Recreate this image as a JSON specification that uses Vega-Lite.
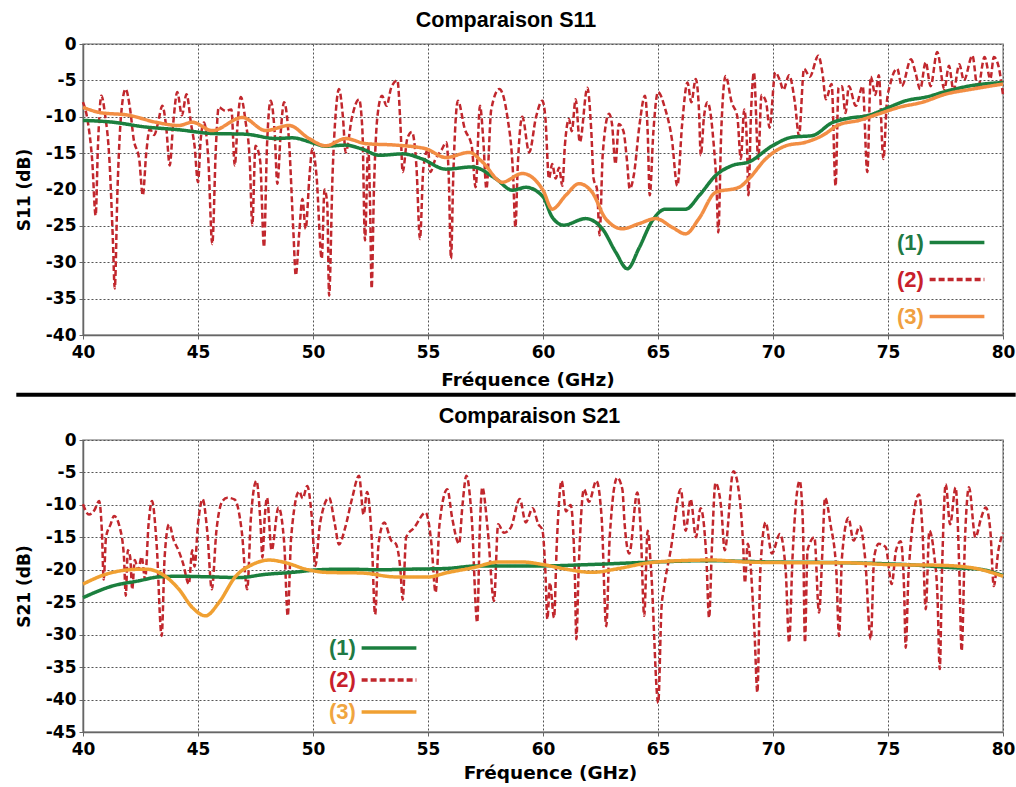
{
"$schema": "https://vega.github.io/schema/vega-lite/v6.json",
"padding": {"left": 13, "top": 8, "right": 0, "bottom": 0},
"background": "white",
"config": {
 "font": "DejaVu Sans",
 "view": {"stroke": "#999", "strokeWidth": 1.5},
 "axis": {"labelFont": "DejaVu Sans", "labelFontWeight": "bold", "labelFontSize": 17, "labelColor": "#000", "titleFont": "DejaVu Sans", "titleFontWeight": "bold", "titleFontSize": 18.5, "titleColor": "#000", "gridColor": "#555", "gridDash": [2, 2], "gridWidth": 1, "domainColor": "#666", "domainWidth": 1.5, "tickColor": "#666", "tickSize": 4, "labelPadding": 3, "labelFlush": false, "labelOverlap": false, "tickCount": 50},
 "axisX": {"labelPadding": 5},
 "axisY": {"titleFontSize": 17},
 "title": {"font": "Liberation Sans", "fontWeight": "bold", "fontSize": 21.5, "color": "#000", "anchor": "middle", "offset": 4},
 "legend": {"labelFont": "Liberation Sans", "labelFontWeight": "bold", "labelFontSize": 22, "symbolType": "stroke", "symbolSize": 3000, "symbolStrokeWidth": 3.5, "title": null, "rowPadding": 0}
},
"datasets": {
 "s11": [
  {"f":40,"v":-10.5,"s":"(1)"},{"f":41.3,"v":-10.75,"s":"(1)"},{"f":42.7,"v":-11.4,"s":"(1)"},{"f":44.2,"v":-11.8,"s":"(1)"},{"f":45.6,"v":-12.3,"s":"(1)"},{"f":47.07,"v":-12.4,"s":"(1)"},{"f":48.4,"v":-13,"s":"(1)"},{"f":49.1,"v":-12.9,"s":"(1)"},{"f":50,"v":-13.6,"s":"(1)"},{"f":50.55,"v":-14.05,"s":"(1)"},{"f":51.4,"v":-13.9,"s":"(1)"},{"f":52.1,"v":-14.4,"s":"(1)"},{"f":52.9,"v":-15.3,"s":"(1)"},{"f":53.9,"v":-15.1,"s":"(1)"},{"f":54.75,"v":-15.8,"s":"(1)"},{"f":55.77,"v":-17.2,"s":"(1)"},{"f":56.93,"v":-16.9,"s":"(1)"},{"f":57.94,"v":-18.5,"s":"(1)"},{"f":58.67,"v":-20.1,"s":"(1)"},{"f":59.25,"v":-19.7,"s":"(1)"},{"f":60,"v":-21,"s":"(1)"},{"f":60.4,"v":-23.8,"s":"(1)"},{"f":60.9,"v":-24.9,"s":"(1)"},{"f":61.85,"v":-24,"s":"(1)"},{"f":62.58,"v":-25.4,"s":"(1)"},{"f":63.16,"v":-28.6,"s":"(1)"},{"f":63.67,"v":-30.9,"s":"(1)"},{"f":64.17,"v":-28.1,"s":"(1)"},{"f":64.75,"v":-24.3,"s":"(1)"},{"f":65.33,"v":-22.7,"s":"(1)"},{"f":66.2,"v":-22.7,"s":"(1)"},{"f":66.8,"v":-20.8,"s":"(1)"},{"f":67.5,"v":-18.1,"s":"(1)"},{"f":68.23,"v":-16.7,"s":"(1)"},{"f":68.96,"v":-16.2,"s":"(1)"},{"f":69.97,"v":-14,"s":"(1)"},{"f":70.84,"v":-12.8,"s":"(1)"},{"f":71.7,"v":-12.6,"s":"(1)"},{"f":72.58,"v":-10.8,"s":"(1)"},{"f":73.3,"v":-10.2,"s":"(1)"},{"f":74.17,"v":-9.8,"s":"(1)"},{"f":75.04,"v":-8.7,"s":"(1)"},{"f":75.77,"v":-7.8,"s":"(1)"},{"f":76.64,"v":-7.3,"s":"(1)"},{"f":77.65,"v":-6.4,"s":"(1)"},{"f":78.67,"v":-5.7,"s":"(1)"},{"f":80,"v":-5.3,"s":"(1)"},
  {"f":40,"v":-8.7,"s":"(3)"},{"f":40.7,"v":-9.4,"s":"(3)"},{"f":42,"v":-9.8,"s":"(3)"},{"f":43.16,"v":-10.75,"s":"(3)"},{"f":44.17,"v":-11.2,"s":"(3)"},{"f":44.75,"v":-10.75,"s":"(3)"},{"f":45.62,"v":-11.9,"s":"(3)"},{"f":46.93,"v":-10.1,"s":"(3)"},{"f":47.94,"v":-11.9,"s":"(3)"},{"f":48.96,"v":-11.2,"s":"(3)"},{"f":49.83,"v":-13,"s":"(3)"},{"f":50.55,"v":-14,"s":"(3)"},{"f":51.42,"v":-13,"s":"(3)"},{"f":52.3,"v":-13.7,"s":"(3)"},{"f":53.6,"v":-13.9,"s":"(3)"},{"f":54.9,"v":-14.4,"s":"(3)"},{"f":55.77,"v":-15.6,"s":"(3)"},{"f":56.8,"v":-14.9,"s":"(3)"},{"f":57.36,"v":-16.2,"s":"(3)"},{"f":58.23,"v":-19,"s":"(3)"},{"f":59.1,"v":-17.8,"s":"(3)"},{"f":60,"v":-20.1,"s":"(3)"},{"f":60.4,"v":-22.7,"s":"(3)"},{"f":60.99,"v":-20.8,"s":"(3)"},{"f":61.57,"v":-19.2,"s":"(3)"},{"f":62.14,"v":-20.4,"s":"(3)"},{"f":62.72,"v":-24,"s":"(3)"},{"f":63.45,"v":-25.4,"s":"(3)"},{"f":64.17,"v":-24.7,"s":"(3)"},{"f":64.9,"v":-24,"s":"(3)"},{"f":65.62,"v":-25.2,"s":"(3)"},{"f":66.2,"v":-26.1,"s":"(3)"},{"f":66.78,"v":-24,"s":"(3)"},{"f":67.5,"v":-20.4,"s":"(3)"},{"f":68.52,"v":-19.7,"s":"(3)"},{"f":68.96,"v":-18.5,"s":"(3)"},{"f":69.68,"v":-15.8,"s":"(3)"},{"f":70.55,"v":-14,"s":"(3)"},{"f":71.42,"v":-13.5,"s":"(3)"},{"f":72.14,"v":-12.6,"s":"(3)"},{"f":72.87,"v":-11.1,"s":"(3)"},{"f":73.74,"v":-10.5,"s":"(3)"},{"f":74.6,"v":-9.6,"s":"(3)"},{"f":75.48,"v":-8.7,"s":"(3)"},{"f":76.5,"v":-8,"s":"(3)"},{"f":77.5,"v":-6.9,"s":"(3)"},{"f":78.67,"v":-6.2,"s":"(3)"},{"f":80,"v":-5.5,"s":"(3)"},
  {"f":40,"v":-8,"s":"(2)"},{"f":40.2,"v":-10.5,"s":"(2)"},{"f":40.4,"v":-16,"s":"(2)"},{"f":40.55,"v":-23.6,"s":"(2)"},{"f":40.65,"v":-14,"s":"(2)"},{"f":40.8,"v":-7.1,"s":"(2)"},{"f":40.95,"v":-9.5,"s":"(2)"},{"f":41.15,"v":-16,"s":"(2)"},{"f":41.3,"v":-27,"s":"(2)"},{"f":41.38,"v":-33.6,"s":"(2)"},{"f":41.5,"v":-20,"s":"(2)"},{"f":41.65,"v":-10,"s":"(2)"},{"f":41.85,"v":-6.2,"s":"(2)"},{"f":42.05,"v":-9,"s":"(2)"},{"f":42.2,"v":-13,"s":"(2)"},{"f":42.45,"v":-16,"s":"(2)"},{"f":42.6,"v":-20.8,"s":"(2)"},{"f":42.75,"v":-15,"s":"(2)"},{"f":42.9,"v":-11.7,"s":"(2)"},{"f":43.1,"v":-12.5,"s":"(2)"},{"f":43.25,"v":-11,"s":"(2)"},{"f":43.45,"v":-8.5,"s":"(2)"},{"f":43.62,"v":-11.5,"s":"(2)"},{"f":43.77,"v":-16.7,"s":"(2)"},{"f":43.92,"v":-11,"s":"(2)"},{"f":44.1,"v":-6.6,"s":"(2)"},{"f":44.3,"v":-9.8,"s":"(2)"},{"f":44.5,"v":-6.9,"s":"(2)"},{"f":44.7,"v":-11,"s":"(2)"},{"f":44.85,"v":-14,"s":"(2)"},{"f":45,"v":-19,"s":"(2)"},{"f":45.12,"v":-13,"s":"(2)"},{"f":45.26,"v":-10.8,"s":"(2)"},{"f":45.45,"v":-16,"s":"(2)"},{"f":45.62,"v":-27.5,"s":"(2)"},{"f":45.78,"v":-14,"s":"(2)"},{"f":45.9,"v":-8.7,"s":"(2)"},{"f":46.2,"v":-9.2,"s":"(2)"},{"f":46.45,"v":-9,"s":"(2)"},{"f":46.6,"v":-16.7,"s":"(2)"},{"f":46.72,"v":-11,"s":"(2)"},{"f":46.86,"v":-7.3,"s":"(2)"},{"f":47.07,"v":-10.7,"s":"(2)"},{"f":47.25,"v":-16,"s":"(2)"},{"f":47.36,"v":-24.9,"s":"(2)"},{"f":47.5,"v":-14,"s":"(2)"},{"f":47.7,"v":-16,"s":"(2)"},{"f":47.87,"v":-27.9,"s":"(2)"},{"f":48,"v":-14,"s":"(2)"},{"f":48.16,"v":-7.8,"s":"(2)"},{"f":48.33,"v":-12,"s":"(2)"},{"f":48.45,"v":-19.2,"s":"(2)"},{"f":48.6,"v":-12,"s":"(2)"},{"f":48.74,"v":-8,"s":"(2)"},{"f":48.95,"v":-13,"s":"(2)"},{"f":49.15,"v":-26,"s":"(2)"},{"f":49.25,"v":-31.8,"s":"(2)"},{"f":49.4,"v":-26,"s":"(2)"},{"f":49.54,"v":-21.3,"s":"(2)"},{"f":49.68,"v":-25.4,"s":"(2)"},{"f":49.85,"v":-18,"s":"(2)"},{"f":49.97,"v":-14.4,"s":"(2)"},{"f":50.15,"v":-18,"s":"(2)"},{"f":50.38,"v":-29.5,"s":"(2)"},{"f":50.5,"v":-20,"s":"(2)"},{"f":50.62,"v":-22,"s":"(2)"},{"f":50.7,"v":-34.6,"s":"(2)"},{"f":50.85,"v":-18,"s":"(2)"},{"f":51,"v":-9,"s":"(2)"},{"f":51.13,"v":-6.2,"s":"(2)"},{"f":51.3,"v":-10,"s":"(2)"},{"f":51.42,"v":-14.9,"s":"(2)"},{"f":51.7,"v":-10,"s":"(2)"},{"f":52,"v":-7.6,"s":"(2)"},{"f":52.15,"v":-12,"s":"(2)"},{"f":52.26,"v":-27,"s":"(2)"},{"f":52.4,"v":-14,"s":"(2)"},{"f":52.48,"v":-22,"s":"(2)"},{"f":52.55,"v":-33.6,"s":"(2)"},{"f":52.65,"v":-20,"s":"(2)"},{"f":52.8,"v":-10,"s":"(2)"},{"f":53,"v":-7.1,"s":"(2)"},{"f":53.2,"v":-8.5,"s":"(2)"},{"f":53.4,"v":-6,"s":"(2)"},{"f":53.67,"v":-5,"s":"(2)"},{"f":53.8,"v":-11,"s":"(2)"},{"f":53.9,"v":-17.6,"s":"(2)"},{"f":54.1,"v":-13,"s":"(2)"},{"f":54.3,"v":-12.1,"s":"(2)"},{"f":54.5,"v":-17,"s":"(2)"},{"f":54.65,"v":-26.8,"s":"(2)"},{"f":54.8,"v":-17,"s":"(2)"},{"f":55,"v":-14.5,"s":"(2)"},{"f":55.1,"v":-17.6,"s":"(2)"},{"f":55.3,"v":-16,"s":"(2)"},{"f":55.6,"v":-14.5,"s":"(2)"},{"f":55.8,"v":-13.5,"s":"(2)"},{"f":55.9,"v":-18,"s":"(2)"},{"f":56,"v":-29.5,"s":"(2)"},{"f":56.1,"v":-18,"s":"(2)"},{"f":56.3,"v":-7.8,"s":"(2)"},{"f":56.6,"v":-11.7,"s":"(2)"},{"f":56.9,"v":-14,"s":"(2)"},{"f":57.07,"v":-19.7,"s":"(2)"},{"f":57.26,"v":-8.5,"s":"(2)"},{"f":57.4,"v":-13,"s":"(2)"},{"f":57.54,"v":-19.9,"s":"(2)"},{"f":57.75,"v":-9,"s":"(2)"},{"f":58.1,"v":-6.2,"s":"(2)"},{"f":58.45,"v":-10,"s":"(2)"},{"f":58.7,"v":-18,"s":"(2)"},{"f":58.8,"v":-25.2,"s":"(2)"},{"f":58.9,"v":-17,"s":"(2)"},{"f":59.1,"v":-10,"s":"(2)"},{"f":59.4,"v":-14.9,"s":"(2)"},{"f":59.7,"v":-10,"s":"(2)"},{"f":59.97,"v":-7.8,"s":"(2)"},
  {"f":60.1,"v":-10,"s":"(2)"},{"f":60.26,"v":-18.5,"s":"(2)"},{"f":60.4,"v":-16.5,"s":"(2)"},{"f":60.55,"v":-18.5,"s":"(2)"},{"f":60.7,"v":-17,"s":"(2)"},{"f":60.84,"v":-19.5,"s":"(2)"},{"f":60.95,"v":-14,"s":"(2)"},{"f":61.13,"v":-10.3,"s":"(2)"},{"f":61.25,"v":-12,"s":"(2)"},{"f":61.42,"v":-7.6,"s":"(2)"},{"f":61.6,"v":-13.5,"s":"(2)"},{"f":61.93,"v":-6,"s":"(2)"},{"f":62.1,"v":-12,"s":"(2)"},{"f":62.2,"v":-18.5,"s":"(2)"},{"f":62.35,"v":-20,"s":"(2)"},{"f":62.46,"v":-26.3,"s":"(2)"},{"f":62.6,"v":-15,"s":"(2)"},{"f":62.87,"v":-9.6,"s":"(2)"},{"f":63,"v":-11,"s":"(2)"},{"f":63.15,"v":-16.5,"s":"(2)"},{"f":63.3,"v":-11,"s":"(2)"},{"f":63.5,"v":-12,"s":"(2)"},{"f":63.65,"v":-16,"s":"(2)"},{"f":63.77,"v":-19.9,"s":"(2)"},{"f":63.95,"v":-18,"s":"(2)"},{"f":64.2,"v":-11,"s":"(2)"},{"f":64.43,"v":-7.1,"s":"(2)"},{"f":64.55,"v":-12,"s":"(2)"},{"f":64.64,"v":-20.8,"s":"(2)"},{"f":64.8,"v":-12,"s":"(2)"},{"f":65,"v":-6.6,"s":"(2)"},{"f":65.3,"v":-8.8,"s":"(2)"},{"f":65.6,"v":-13,"s":"(2)"},{"f":65.84,"v":-19.5,"s":"(2)"},{"f":66.05,"v":-11,"s":"(2)"},{"f":66.28,"v":-5.3,"s":"(2)"},{"f":66.45,"v":-8,"s":"(2)"},{"f":66.64,"v":-4.8,"s":"(2)"},{"f":66.78,"v":-9,"s":"(2)"},{"f":66.86,"v":-15.3,"s":"(2)"},{"f":67,"v":-10,"s":"(2)"},{"f":67.15,"v":-8,"s":"(2)"},{"f":67.4,"v":-13,"s":"(2)"},{"f":67.55,"v":-20,"s":"(2)"},{"f":67.62,"v":-25.9,"s":"(2)"},{"f":67.75,"v":-12,"s":"(2)"},{"f":67.94,"v":-4.4,"s":"(2)"},{"f":68.2,"v":-8,"s":"(2)"},{"f":68.45,"v":-10,"s":"(2)"},{"f":68.6,"v":-15.8,"s":"(2)"},{"f":68.75,"v":-9,"s":"(2)"},{"f":68.87,"v":-14,"s":"(2)"},{"f":68.93,"v":-20.8,"s":"(2)"},{"f":69.05,"v":-9,"s":"(2)"},{"f":69.17,"v":-3.9,"s":"(2)"},{"f":69.36,"v":-15.8,"s":"(2)"},{"f":69.5,"v":-7,"s":"(2)"},{"f":69.7,"v":-8,"s":"(2)"},{"f":69.85,"v":-11.5,"s":"(2)"},{"f":70.1,"v":-3.9,"s":"(2)"},{"f":70.3,"v":-5,"s":"(2)"},{"f":70.45,"v":-6.3,"s":"(2)"},{"f":70.7,"v":-4.3,"s":"(2)"},{"f":70.95,"v":-8,"s":"(2)"},{"f":71.13,"v":-12.6,"s":"(2)"},{"f":71.35,"v":-3.4,"s":"(2)"},{"f":71.6,"v":-4.5,"s":"(2)"},{"f":71.97,"v":-1.6,"s":"(2)"},{"f":72.15,"v":-4,"s":"(2)"},{"f":72.3,"v":-7.6,"s":"(2)"},{"f":72.55,"v":-5.5,"s":"(2)"},{"f":72.72,"v":-19.5,"s":"(2)"},{"f":72.85,"v":-6,"s":"(2)"},{"f":73,"v":-5.8,"s":"(2)"},{"f":73.15,"v":-9.5,"s":"(2)"},{"f":73.3,"v":-5.8,"s":"(2)"},{"f":73.6,"v":-8.5,"s":"(2)"},{"f":73.9,"v":-5.8,"s":"(2)"},{"f":74.1,"v":-17.6,"s":"(2)"},{"f":74.25,"v":-4.5,"s":"(2)"},{"f":74.45,"v":-7,"s":"(2)"},{"f":74.6,"v":-4.3,"s":"(2)"},{"f":74.8,"v":-15.8,"s":"(2)"},{"f":74.95,"v":-8,"s":"(2)"},{"f":75.1,"v":-5.5,"s":"(2)"},{"f":75.4,"v":-3.4,"s":"(2)"},{"f":75.6,"v":-5.8,"s":"(2)"},{"f":76,"v":-2.1,"s":"(2)"},{"f":76.2,"v":-4,"s":"(2)"},{"f":76.4,"v":-6.2,"s":"(2)"},{"f":76.64,"v":-2.5,"s":"(2)"},{"f":76.85,"v":-5.8,"s":"(2)"},{"f":77.14,"v":-1.1,"s":"(2)"},{"f":77.45,"v":-6.2,"s":"(2)"},{"f":77.65,"v":-3,"s":"(2)"},{"f":77.85,"v":-6.4,"s":"(2)"},{"f":78.1,"v":-2.8,"s":"(2)"},{"f":78.3,"v":-5,"s":"(2)"},{"f":78.67,"v":-1.6,"s":"(2)"},{"f":78.9,"v":-6.2,"s":"(2)"},{"f":79.2,"v":-1.8,"s":"(2)"},{"f":79.45,"v":-4.8,"s":"(2)"},{"f":79.6,"v":-1.8,"s":"(2)"},{"f":79.8,"v":-3,"s":"(2)"},{"f":80,"v":-7,"s":"(2)"}
 ],
 "s21": [
  {"f":40,"v":-24.3,"s":"(1)"},{"f":41.28,"v":-22.5,"s":"(1)"},{"f":42.43,"v":-21.7,"s":"(1)"},{"f":43.3,"v":-21.1,"s":"(1)"},{"f":44.17,"v":-21,"s":"(1)"},{"f":45.62,"v":-21.1,"s":"(1)"},{"f":46.78,"v":-21.2,"s":"(1)"},{"f":47.94,"v":-20.7,"s":"(1)"},{"f":49.1,"v":-20.4,"s":"(1)"},{"f":50.26,"v":-20,"s":"(1)"},{"f":51.4,"v":-19.9,"s":"(1)"},{"f":52.87,"v":-20,"s":"(1)"},{"f":54.3,"v":-19.9,"s":"(1)"},{"f":55.77,"v":-19.8,"s":"(1)"},{"f":57.2,"v":-19.4,"s":"(1)"},{"f":58.67,"v":-19.4,"s":"(1)"},{"f":60,"v":-19.4,"s":"(1)"},{"f":62,"v":-19.2,"s":"(1)"},{"f":64.9,"v":-18.8,"s":"(1)"},{"f":67.07,"v":-18.6,"s":"(1)"},{"f":69.97,"v":-18.8,"s":"(1)"},{"f":72.87,"v":-18.9,"s":"(1)"},{"f":75.77,"v":-19.2,"s":"(1)"},{"f":77.94,"v":-19.7,"s":"(1)"},{"f":78.96,"v":-19.9,"s":"(1)"},{"f":80,"v":-20.9,"s":"(1)"},
  {"f":40,"v":-22.2,"s":"(3)"},{"f":40.99,"v":-20.7,"s":"(3)"},{"f":42,"v":-20,"s":"(3)"},{"f":42.72,"v":-19.9,"s":"(3)"},{"f":43.45,"v":-20.7,"s":"(3)"},{"f":44.17,"v":-23,"s":"(3)"},{"f":44.75,"v":-25.8,"s":"(3)"},{"f":45.33,"v":-27.1,"s":"(3)"},{"f":45.9,"v":-25.1,"s":"(3)"},{"f":46.64,"v":-21,"s":"(3)"},{"f":47.36,"v":-19.2,"s":"(3)"},{"f":48.09,"v":-18.5,"s":"(3)"},{"f":48.8,"v":-18.9,"s":"(3)"},{"f":49.68,"v":-19.9,"s":"(3)"},{"f":50.55,"v":-20.4,"s":"(3)"},{"f":52.14,"v":-20.5,"s":"(3)"},{"f":53.6,"v":-21.1,"s":"(3)"},{"f":55.04,"v":-21.1,"s":"(3)"},{"f":55.77,"v":-20.5,"s":"(3)"},{"f":56.93,"v":-19.7,"s":"(3)"},{"f":58.09,"v":-18.8,"s":"(3)"},{"f":59.1,"v":-18.8,"s":"(3)"},{"f":60,"v":-19.2,"s":"(3)"},{"f":60.99,"v":-19.9,"s":"(3)"},{"f":62.14,"v":-20.4,"s":"(3)"},{"f":63.3,"v":-19.8,"s":"(3)"},{"f":64.46,"v":-19,"s":"(3)"},{"f":65.91,"v":-18.6,"s":"(3)"},{"f":67.36,"v":-18.5,"s":"(3)"},{"f":68.8,"v":-18.8,"s":"(3)"},{"f":70.7,"v":-18.9,"s":"(3)"},{"f":72.87,"v":-18.9,"s":"(3)"},{"f":75.04,"v":-19.2,"s":"(3)"},{"f":77.2,"v":-19.3,"s":"(3)"},{"f":78.67,"v":-19.7,"s":"(3)"},{"f":80,"v":-21,"s":"(3)"},
  {"f":40,"v":-9.9,"s":"(2)"},{"f":40.26,"v":-11.5,"s":"(2)"},{"f":40.5,"v":-10.8,"s":"(2)"},{"f":40.7,"v":-9.4,"s":"(2)"},{"f":40.82,"v":-14,"s":"(2)"},{"f":40.9,"v":-21.5,"s":"(2)"},{"f":41,"v":-15,"s":"(2)"},{"f":41.2,"v":-13,"s":"(2)"},{"f":41.35,"v":-11.7,"s":"(2)"},{"f":41.6,"v":-13.5,"s":"(2)"},{"f":41.78,"v":-18,"s":"(2)"},{"f":41.86,"v":-24,"s":"(2)"},{"f":41.95,"v":-17,"s":"(2)"},{"f":42.05,"v":-18,"s":"(2)"},{"f":42.14,"v":-23,"s":"(2)"},{"f":42.25,"v":-18.5,"s":"(2)"},{"f":42.4,"v":-20,"s":"(2)"},{"f":42.55,"v":-18,"s":"(2)"},{"f":42.7,"v":-21.5,"s":"(2)"},{"f":42.85,"v":-13,"s":"(2)"},{"f":43,"v":-9.4,"s":"(2)"},{"f":43.2,"v":-16,"s":"(2)"},{"f":43.42,"v":-30.2,"s":"(2)"},{"f":43.55,"v":-18,"s":"(2)"},{"f":43.74,"v":-13,"s":"(2)"},{"f":43.95,"v":-15.5,"s":"(2)"},{"f":44.15,"v":-17,"s":"(2)"},{"f":44.35,"v":-19,"s":"(2)"},{"f":44.6,"v":-22.2,"s":"(2)"},{"f":44.75,"v":-17,"s":"(2)"},{"f":44.85,"v":-19.5,"s":"(2)"},{"f":45,"v":-13,"s":"(2)"},{"f":45.2,"v":-9.1,"s":"(2)"},{"f":45.4,"v":-14,"s":"(2)"},{"f":45.6,"v":-23,"s":"(2)"},{"f":45.8,"v":-14,"s":"(2)"},{"f":46.05,"v":-9.5,"s":"(2)"},{"f":46.28,"v":-8.9,"s":"(2)"},{"f":46.6,"v":-9.2,"s":"(2)"},{"f":46.9,"v":-14,"s":"(2)"},{"f":47.14,"v":-23,"s":"(2)"},{"f":47.3,"v":-12,"s":"(2)"},{"f":47.54,"v":-6.3,"s":"(2)"},{"f":47.72,"v":-13,"s":"(2)"},{"f":47.8,"v":-18.1,"s":"(2)"},{"f":47.9,"v":-12,"s":"(2)"},{"f":48,"v":-8.9,"s":"(2)"},{"f":48.2,"v":-17,"s":"(2)"},{"f":48.5,"v":-10.4,"s":"(2)"},{"f":48.75,"v":-16,"s":"(2)"},{"f":48.9,"v":-27.1,"s":"(2)"},{"f":49.05,"v":-15,"s":"(2)"},{"f":49.4,"v":-7.9,"s":"(2)"},{"f":49.55,"v":-9,"s":"(2)"},{"f":49.75,"v":-7.1,"s":"(2)"},{"f":49.95,"v":-12,"s":"(2)"},{"f":50.1,"v":-19.4,"s":"(2)"},{"f":50.3,"v":-13,"s":"(2)"},{"f":50.7,"v":-8.9,"s":"(2)"},{"f":50.95,"v":-13,"s":"(2)"},{"f":51.13,"v":-16.1,"s":"(2)"},{"f":51.4,"v":-13.5,"s":"(2)"},{"f":51.7,"v":-9,"s":"(2)"},{"f":52,"v":-5.5,"s":"(2)"},{"f":52.2,"v":-11.5,"s":"(2)"},{"f":52.35,"v":-8,"s":"(2)"},{"f":52.55,"v":-15,"s":"(2)"},{"f":52.7,"v":-26.9,"s":"(2)"},{"f":52.85,"v":-16,"s":"(2)"},{"f":53.1,"v":-12.7,"s":"(2)"},{"f":53.4,"v":-15.5,"s":"(2)"},{"f":53.6,"v":-16,"s":"(2)"},{"f":53.8,"v":-20,"s":"(2)"},{"f":53.9,"v":-24.6,"s":"(2)"},{"f":54.05,"v":-15,"s":"(2)"},{"f":54.4,"v":-13.5,"s":"(2)"},{"f":54.9,"v":-11.2,"s":"(2)"},{"f":55.15,"v":-16,"s":"(2)"},{"f":55.33,"v":-23.5,"s":"(2)"},{"f":55.5,"v":-13,"s":"(2)"},{"f":55.84,"v":-7.6,"s":"(2)"},{"f":56.05,"v":-12,"s":"(2)"},{"f":56.35,"v":-16,"s":"(2)"},{"f":56.5,"v":-10,"s":"(2)"},{"f":56.67,"v":-5.5,"s":"(2)"},{"f":56.9,"v":-12,"s":"(2)"},{"f":57.14,"v":-28.1,"s":"(2)"},{"f":57.25,"v":-14,"s":"(2)"},{"f":57.36,"v":-7.3,"s":"(2)"},{"f":57.6,"v":-14,"s":"(2)"},{"f":57.87,"v":-24.8,"s":"(2)"},{"f":58.05,"v":-13,"s":"(2)"},{"f":58.3,"v":-14.3,"s":"(2)"},{"f":58.6,"v":-13.5,"s":"(2)"},{"f":58.99,"v":-9.1,"s":"(2)"},{"f":59.25,"v":-12.7,"s":"(2)"},{"f":59.55,"v":-10.5,"s":"(2)"},{"f":59.8,"v":-13,"s":"(2)"},{"f":59.97,"v":-13.8,"s":"(2)"},
  {"f":60.1,"v":-20,"s":"(2)"},{"f":60.19,"v":-27.6,"s":"(2)"},{"f":60.3,"v":-22,"s":"(2)"},{"f":60.48,"v":-27.4,"s":"(2)"},{"f":60.6,"v":-16,"s":"(2)"},{"f":60.81,"v":-6.3,"s":"(2)"},{"f":61,"v":-11,"s":"(2)"},{"f":61.2,"v":-10,"s":"(2)"},{"f":61.38,"v":-20,"s":"(2)"},{"f":61.45,"v":-30.7,"s":"(2)"},{"f":61.55,"v":-20,"s":"(2)"},{"f":61.78,"v":-7.6,"s":"(2)"},{"f":62,"v":-9.5,"s":"(2)"},{"f":62.32,"v":-6.3,"s":"(2)"},{"f":62.55,"v":-12,"s":"(2)"},{"f":62.75,"v":-28.7,"s":"(2)"},{"f":62.9,"v":-15,"s":"(2)"},{"f":63.23,"v":-5.8,"s":"(2)"},{"f":63.45,"v":-7.6,"s":"(2)"},{"f":63.55,"v":-13,"s":"(2)"},{"f":63.75,"v":-17.5,"s":"(2)"},{"f":64.1,"v":-8.1,"s":"(2)"},{"f":64.25,"v":-14,"s":"(2)"},{"f":64.4,"v":-27.1,"s":"(2)"},{"f":64.55,"v":-14,"s":"(2)"},{"f":64.7,"v":-20,"s":"(2)"},{"f":65.01,"v":-40.5,"s":"(2)"},{"f":65.15,"v":-26,"s":"(2)"},{"f":65.26,"v":-22.8,"s":"(2)"},{"f":65.55,"v":-17,"s":"(2)"},{"f":65.99,"v":-7.6,"s":"(2)"},{"f":66.2,"v":-14,"s":"(2)"},{"f":66.42,"v":-9.1,"s":"(2)"},{"f":66.65,"v":-15,"s":"(2)"},{"f":66.85,"v":-10.5,"s":"(2)"},{"f":67.1,"v":-18,"s":"(2)"},{"f":67.22,"v":-27.4,"s":"(2)"},{"f":67.35,"v":-16,"s":"(2)"},{"f":67.5,"v":-6.6,"s":"(2)"},{"f":67.75,"v":-10.5,"s":"(2)"},{"f":67.9,"v":-17,"s":"(2)"},{"f":68.28,"v":-4.8,"s":"(2)"},{"f":68.55,"v":-9,"s":"(2)"},{"f":68.7,"v":-16,"s":"(2)"},{"f":68.78,"v":-22,"s":"(2)"},{"f":68.9,"v":-16,"s":"(2)"},{"f":69.2,"v":-30,"s":"(2)"},{"f":69.32,"v":-38.9,"s":"(2)"},{"f":69.45,"v":-20,"s":"(2)"},{"f":69.68,"v":-12.7,"s":"(2)"},{"f":69.95,"v":-17.5,"s":"(2)"},{"f":70.3,"v":-14.5,"s":"(2)"},{"f":70.55,"v":-20,"s":"(2)"},{"f":70.7,"v":-31.2,"s":"(2)"},{"f":70.85,"v":-18,"s":"(2)"},{"f":71.16,"v":-6.3,"s":"(2)"},{"f":71.3,"v":-13,"s":"(2)"},{"f":71.39,"v":-31.2,"s":"(2)"},{"f":71.5,"v":-17,"s":"(2)"},{"f":71.8,"v":-15,"s":"(2)"},{"f":72,"v":-26.6,"s":"(2)"},{"f":72.15,"v":-17,"s":"(2)"},{"f":72.26,"v":-8.9,"s":"(2)"},{"f":72.5,"v":-13,"s":"(2)"},{"f":72.75,"v":-20,"s":"(2)"},{"f":72.87,"v":-30.2,"s":"(2)"},{"f":73,"v":-18,"s":"(2)"},{"f":73.28,"v":-12,"s":"(2)"},{"f":73.5,"v":-15.5,"s":"(2)"},{"f":73.77,"v":-13.3,"s":"(2)"},{"f":74,"v":-18,"s":"(2)"},{"f":74.25,"v":-30.7,"s":"(2)"},{"f":74.4,"v":-18,"s":"(2)"},{"f":74.6,"v":-16,"s":"(2)"},{"f":74.9,"v":-16.5,"s":"(2)"},{"f":75.16,"v":-22.2,"s":"(2)"},{"f":75.35,"v":-17,"s":"(2)"},{"f":75.55,"v":-15.6,"s":"(2)"},{"f":75.7,"v":-23,"s":"(2)"},{"f":75.77,"v":-32,"s":"(2)"},{"f":75.9,"v":-20,"s":"(2)"},{"f":76.35,"v":-8.4,"s":"(2)"},{"f":76.5,"v":-14,"s":"(2)"},{"f":76.64,"v":-26.1,"s":"(2)"},{"f":76.8,"v":-14,"s":"(2)"},{"f":77,"v":-17.5,"s":"(2)"},{"f":77.15,"v":-24,"s":"(2)"},{"f":77.25,"v":-35.3,"s":"(2)"},{"f":77.35,"v":-20,"s":"(2)"},{"f":77.51,"v":-6.8,"s":"(2)"},{"f":77.7,"v":-13,"s":"(2)"},{"f":77.94,"v":-7.3,"s":"(2)"},{"f":78.1,"v":-20,"s":"(2)"},{"f":78.2,"v":-32.5,"s":"(2)"},{"f":78.35,"v":-15,"s":"(2)"},{"f":78.52,"v":-7.3,"s":"(2)"},{"f":78.8,"v":-15,"s":"(2)"},{"f":79.05,"v":-12,"s":"(2)"},{"f":79.25,"v":-10.4,"s":"(2)"},{"f":79.45,"v":-14,"s":"(2)"},{"f":79.6,"v":-22.5,"s":"(2)"},{"f":79.8,"v":-17,"s":"(2)"},{"f":80,"v":-14.3,"s":"(2)"}
 ]
},
"resolve": {"scale": {"stroke": "independent", "strokeDash": "independent"}, "legend": {"stroke": "independent", "strokeDash": "independent"}},
"concat": [
 {
  "width": 920, "height": 291,
  "title": {"text": "Comparaison S11", "dx": -37},
  "data": {"name": "s11"},
  "layer": [
   {"transform": [{"filter": "datum.s === '(2)'"}],
    "mark": {"type": "line", "strokeWidth": 2.5, "interpolate": "monotone"},
    "encoding": {
     "x": {"field": "f", "type": "quantitative", "scale": {"domain": [40, 80], "nice": false}, "axis": {"title": "Fréquence (GHz)", "values": [40,45,50,55,60,65,70,75,80], "titleX": 444.5, "titleAlign": "center", "titlePadding": 10}},
     "y": {"field": "v", "type": "quantitative", "scale": {"domain": [-40, 0], "nice": false}, "axis": {"title": "S11 (dB)", "values": [-40,-35,-30,-25,-20,-15,-10,-5,0], "labelExpr": "'' + datum.value", "titlePadding": 12}},
     "stroke": {"field": "s", "type": "nominal", "scale": {"domain": ["(1)","(2)","(3)"], "range": ["#1b7f3e","#c1272d","#f28e44"]}, "legend": {"orient": "none", "legendX": 814, "legendY": 180, "clipHeight": 37, "encode": {"entries": {"update": {"width": {"value": 130}}}, "labels": {"update": {"x": {"value": 0}, "align": {"value": "left"}, "fill": {"signal": "datum.value === '(1)' ? '#1f7a45' : datum.value === '(2)' ? '#c8202c' : '#f0a040'"}}}, "symbols": {"update": {"x": {"value": 60}}}}}},
     "strokeDash": {"field": "s", "type": "nominal", "scale": {"domain": ["(1)","(2)","(3)"], "range": [[1,0],[6,3],[1,0]]}, "legend": {"orient": "none", "legendX": 814, "legendY": 180, "clipHeight": 37, "encode": {"entries": {"update": {"width": {"value": 130}}}, "labels": {"update": {"x": {"value": 0}, "align": {"value": "left"}, "fill": {"signal": "datum.value === '(1)' ? '#1f7a45' : datum.value === '(2)' ? '#c8202c' : '#f0a040'"}}}, "symbols": {"update": {"x": {"value": 60}}}}}}
    }},
   {"transform": [{"filter": "datum.s !== '(2)'"}],
    "mark": {"type": "line", "strokeWidth": 3.5, "interpolate": "monotone"},
    "encoding": {
     "x": {"field": "f", "type": "quantitative"},
     "y": {"field": "v", "type": "quantitative"},
     "stroke": {"field": "s", "type": "nominal"},
     "strokeDash": {"field": "s", "type": "nominal"}
    }},
   {"data": {"values": [{"k": "separator"}]},
    "mark": {"type": "rule", "strokeWidth": 4, "color": "#000"},
    "encoding": {"x": {"datum": 37.1}, "x2": {"datum": 80.55}, "y": {"datum": -48.2}}}
  ]
 },
 {
  "width": 920, "height": 292,
  "title": {"text": "Comparaison S21", "dx": -13.5},
  "data": {"name": "s21"},
  "layer": [
   {"transform": [{"filter": "datum.s === '(2)'"}],
    "mark": {"type": "line", "strokeWidth": 2.5, "interpolate": "monotone"},
    "encoding": {
     "x": {"field": "f", "type": "quantitative", "scale": {"domain": [40, 80], "nice": false}, "axis": {"title": "Fréquence (GHz)", "values": [40,45,50,55,60,65,70,75,80], "titleX": 467, "titleAlign": "center", "titlePadding": 6}},
     "y": {"field": "v", "type": "quantitative", "scale": {"domain": [-45, 0], "nice": false}, "axis": {"title": "S21 (dB)", "values": [-45,-40,-35,-30,-25,-20,-15,-10,-5,0], "labelExpr": "'' + datum.value", "titlePadding": 12}},
     "stroke": {"field": "s", "type": "nominal", "scale": {"domain": ["(1)","(2)","(3)"], "range": ["#1b7f3e","#c1272d","#f0a032"]}, "legend": {"orient": "none", "legendX": 246, "legendY": 192, "clipHeight": 32, "encode": {"entries": {"update": {"width": {"value": 130}}}, "labels": {"update": {"x": {"value": 0}, "align": {"value": "left"}, "fill": {"signal": "datum.value === '(1)' ? '#1f7a45' : datum.value === '(2)' ? '#c8202c' : '#f0a540'"}}}, "symbols": {"update": {"x": {"value": 60}}}}}},
     "strokeDash": {"field": "s", "type": "nominal", "scale": {"domain": ["(1)","(2)","(3)"], "range": [[1,0],[6,3],[1,0]]}, "legend": {"orient": "none", "legendX": 246, "legendY": 192, "clipHeight": 32, "encode": {"entries": {"update": {"width": {"value": 130}}}, "labels": {"update": {"x": {"value": 0}, "align": {"value": "left"}, "fill": {"signal": "datum.value === '(1)' ? '#1f7a45' : datum.value === '(2)' ? '#c8202c' : '#f0a540'"}}}, "symbols": {"update": {"x": {"value": 60}}}}}}
    }},
   {"transform": [{"filter": "datum.s !== '(2)'"}],
    "mark": {"type": "line", "strokeWidth": 3.5, "interpolate": "monotone"},
    "encoding": {
     "x": {"field": "f", "type": "quantitative"},
     "y": {"field": "v", "type": "quantitative"},
     "stroke": {"field": "s", "type": "nominal"},
     "strokeDash": {"field": "s", "type": "nominal"}
    }}
  ]
 }
],
"columns": 1,
"spacing": 6
}
